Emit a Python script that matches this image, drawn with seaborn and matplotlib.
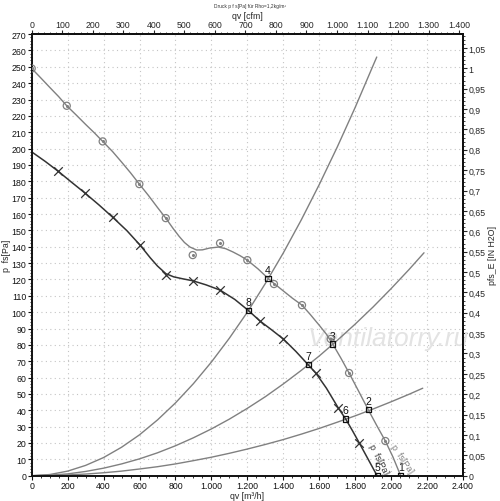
import numpy as np
import pandas as pd
import seaborn as sns
import matplotlib
matplotlib.use("Agg")
import matplotlib.pyplot as plt
from matplotlib.ticker import MultipleLocator, FuncFormatter

# upper fan curve p fs (grey, circles = measured points)
up_mark_q = [0, 195, 395, 599, 746, 896, 1048, 1200, 1348, 1504, 1664, 1766, 1968]
up_mark_p = [249, 226.2, 204.4, 178.3, 157.5, 134.9, 142.2, 131.8, 117.2, 104.3, 83.6, 62.8, 21.2]
up_line_q = [0, 50, 100, 150, 195, 250, 300, 350, 395, 450, 500, 550, 599, 650, 700, 746,
             788, 820, 850, 881, 918, 950, 990, 1039, 1080, 1120, 1160, 1200, 1260, 1315,
             1348, 1400, 1450, 1504, 1550, 1600, 1640, 1675, 1720, 1766, 1820, 1873, 1920,
             1968, 2010, 2053]
up_line_p = [249, 243.3, 237.5, 231.8, 226.2, 220.3, 214.8, 209.5, 204.4, 198.2, 191.8, 185.2,
             178.3, 171.3, 164, 157.5, 151, 146.4, 142.6, 139.8, 138, 138.1, 139.2, 139.8,
             138.8, 136.8, 134.5, 131.8, 126.4, 120.7, 117.6, 113, 108.6, 104.3, 98.6, 92,
             86.5, 80.5, 72, 62.8, 51.5, 40.3, 30.7, 21.2, 11.5, 0]

# lower fan curve p fs (dark, crosses)
lo_mark_q = [148, 297, 451, 603, 747, 896, 1048, 1270, 1400, 1582, 1706, 1823]
lo_mark_p = [186.1, 172.8, 158, 141, 122.6, 119.2, 113.5, 94.6, 83.6, 62.6, 41.4, 20]
lo_line_q = [0, 75, 148, 220, 297, 375, 451, 530, 603, 660, 700, 747, 790, 840, 896, 970,
             1048, 1130, 1205, 1270, 1335, 1400, 1470, 1539, 1582, 1640, 1706, 1747, 1785,
             1823, 1870, 1922]
lo_line_p = [198, 192.2, 186.1, 179.6, 172.8, 165.5, 158, 149.8, 141, 133.2, 128.2, 123.5,
             121.6, 120.4, 119.2, 116.7, 113.5, 107.8, 101.1, 94.6, 89.2, 83.6, 76, 67.8,
             62.6, 53.5, 41.4, 34.7, 27.5, 20, 10.5, 0]

# system curves
sys_a_q = [0, 100, 200, 300, 400, 500, 600, 700, 800, 900, 1000, 1100, 1200, 1300, 1400,
           1500, 1600, 1700, 1800, 1900, 1920]
sys_a_p = [0, 0.7, 2.8, 6.3, 11.1, 17.4, 25, 34.1, 44.5, 56.3, 69.5, 84.1, 100, 117.5,
           136.2, 156.4, 178, 200.9, 225.2, 250.9, 256]
sys_b_q = [0, 100, 200, 300, 400, 500, 600, 700, 800, 900, 1000, 1100, 1200, 1300, 1400,
           1500, 1600, 1700, 1800, 1900, 2000, 2100, 2183]
sys_b_p = [0, 0.3, 1.1, 2.6, 4.6, 7.2, 10.3, 14, 18.3, 23.2, 28.6, 34.6, 41.2, 48.3, 56.1,
           64.4, 73.2, 82.7, 92.7, 103.2, 114.4, 126.1, 136.3]
sys_c_q = [0, 100, 200, 300, 400, 500, 600, 700, 800, 900, 1000, 1100, 1200, 1300, 1400,
           1500, 1600, 1700, 1800, 1900, 2000, 2100, 2176]
sys_c_p = [0, 0.1, 0.45, 1, 1.8, 2.8, 4.1, 5.5, 7.2, 9.2, 11.3, 13.7, 16.3, 19.1, 22.1,
           25.4, 28.9, 32.7, 36.6, 40.8, 45.2, 49.8, 53.5]

# operating points
op_q = [2053, 1873, 1675, 1315, 1922, 1747, 1539, 1205]
op_p = [0, 40.3, 80.5, 120.7, 0, 34.7, 67.8, 101.1]
op_lab = ["1", "2", "3", "4", "5", "6", "7", "8"]

sns.set_style("white")
plt.rcParams['font.family'] = ['Liberation Sans', 'DejaVu Sans']

fig = plt.figure(figsize=(5, 5.02), dpi=100)
ax = fig.add_axes([0.0634, 0.0504, 0.8626, 0.8796])

grey = "#808080"
dark = "#333333"

for qq, pp in [(sys_a_q, sys_a_p), (sys_b_q, sys_b_p), (sys_c_q, sys_c_p)]:
    sns.lineplot(x=qq, y=pp, ax=ax, color=grey, lw=1, sort=False, estimator=None)

sns.lineplot(x=up_line_q, y=up_line_p, ax=ax, color=grey, lw=1, sort=False, estimator=None)
sns.lineplot(x=lo_line_q, y=lo_line_p, ax=ax, color=dark, lw=1.1, sort=False, estimator=None)

ax.scatter(up_mark_q, up_mark_p, s=26, facecolors="none", edgecolors=grey, lw=0.9, zorder=4)
ax.scatter(up_mark_q, up_mark_p, s=1.5, color=grey, zorder=4)
ax.scatter(lo_mark_q, lo_mark_p, s=38, marker="x", color=dark, lw=0.9, zorder=4)

sns.scatterplot(x=op_q, y=op_p, ax=ax, marker="s", s=14, facecolor="none",
                edgecolor="#111111", linewidth=0.9, zorder=5)
for q, p, t in zip(op_q, op_p, op_lab):
    ax.annotate(t, (q, p), xytext=(0, 2.5), textcoords="offset points",
                ha="center", va="bottom", fontsize=7.5, color="#111111")

ax.text(1930, 10.5, "p  fs[Pa]", rotation=-63, ha="center", va="center",
        fontsize=6.5, color=dark)
ax.text(2058, 10.5, "p  fs[Pa]", rotation=-56, ha="center", va="center",
        fontsize=6.5, color=grey)

ax.text(1985, 84, "Ventilatorry.ru", ha="center", va="center", fontsize=19,
        style="italic", color="#e3e3e3", zorder=1)

ax.set_xlim(0, 2400)
ax.set_ylim(0, 270)
ax.xaxis.set_major_locator(MultipleLocator(200))
ax.xaxis.set_minor_locator(MultipleLocator(50))
ax.yaxis.set_major_locator(MultipleLocator(10))
ax.yaxis.set_minor_locator(MultipleLocator(2))

dots = lambda v, pos: f"{int(round(v)):,}".replace(",", ".")
ax.xaxis.set_major_formatter(FuncFormatter(dots))
ax.grid(True, which="major", color="#c4c4c4", linestyle=(0, (1, 3)), lw=0.8)

for s in ax.spines.values():
    s.set_linewidth(1.4)
    s.set_color("#111111")

ax.tick_params(which="major", direction="out", length=3, width=0.8, labelsize=6.3,
               pad=1, colors="#111111")
ax.tick_params(which="minor", direction="out", length=1.5, width=0.6, colors="#111111")
ax.tick_params(axis="both", which="both", bottom=True, left=True)

ax.set_xlabel("qv [m³/h]", fontsize=6.3, labelpad=0.5)
ax.set_ylabel("p  fs[Pa]", fontsize=6.3, labelpad=0.5)

top = ax.secondary_xaxis("top", functions=(lambda q: q / 1.699, lambda c: c * 1.699))
top.xaxis.set_major_locator(MultipleLocator(100))
top.xaxis.set_minor_locator(MultipleLocator(20))
top.xaxis.set_major_formatter(FuncFormatter(dots))
top.tick_params(which="major", direction="out", length=3, width=0.8, labelsize=6.3, pad=1)
top.tick_params(which="minor", direction="out", length=1.5, width=0.6)
top.set_xlabel("qv [cfm]", fontsize=6.3, labelpad=1.5)
top.spines["top"].set_linewidth(1.4)

def comma(v, pos):
    s = f"{v:.2f}".rstrip("0").rstrip(".")
    return s.replace(".", ",")

right = ax.secondary_yaxis("right", functions=(lambda p: p / 249.09, lambda h: h * 249.09))
right.yaxis.set_major_locator(MultipleLocator(0.05))
right.yaxis.set_minor_locator(MultipleLocator(0.01))
right.yaxis.set_major_formatter(FuncFormatter(comma))
right.tick_params(which="major", direction="out", length=3, width=0.8, labelsize=6.3, pad=1)
right.tick_params(which="minor", direction="out", length=1.5, width=0.6)
right.set_ylabel("pfs_E [IN H2O]", fontsize=6.3, labelpad=2)
right.spines["right"].set_linewidth(1.4)

fig.text(0.5, 0.993, "Druck p f s[Pa] für Rho=1,2kg/m³", ha="center", va="top",
         fontsize=3.5, color="#333333")

fig.savefig("out.png", dpi=100)
